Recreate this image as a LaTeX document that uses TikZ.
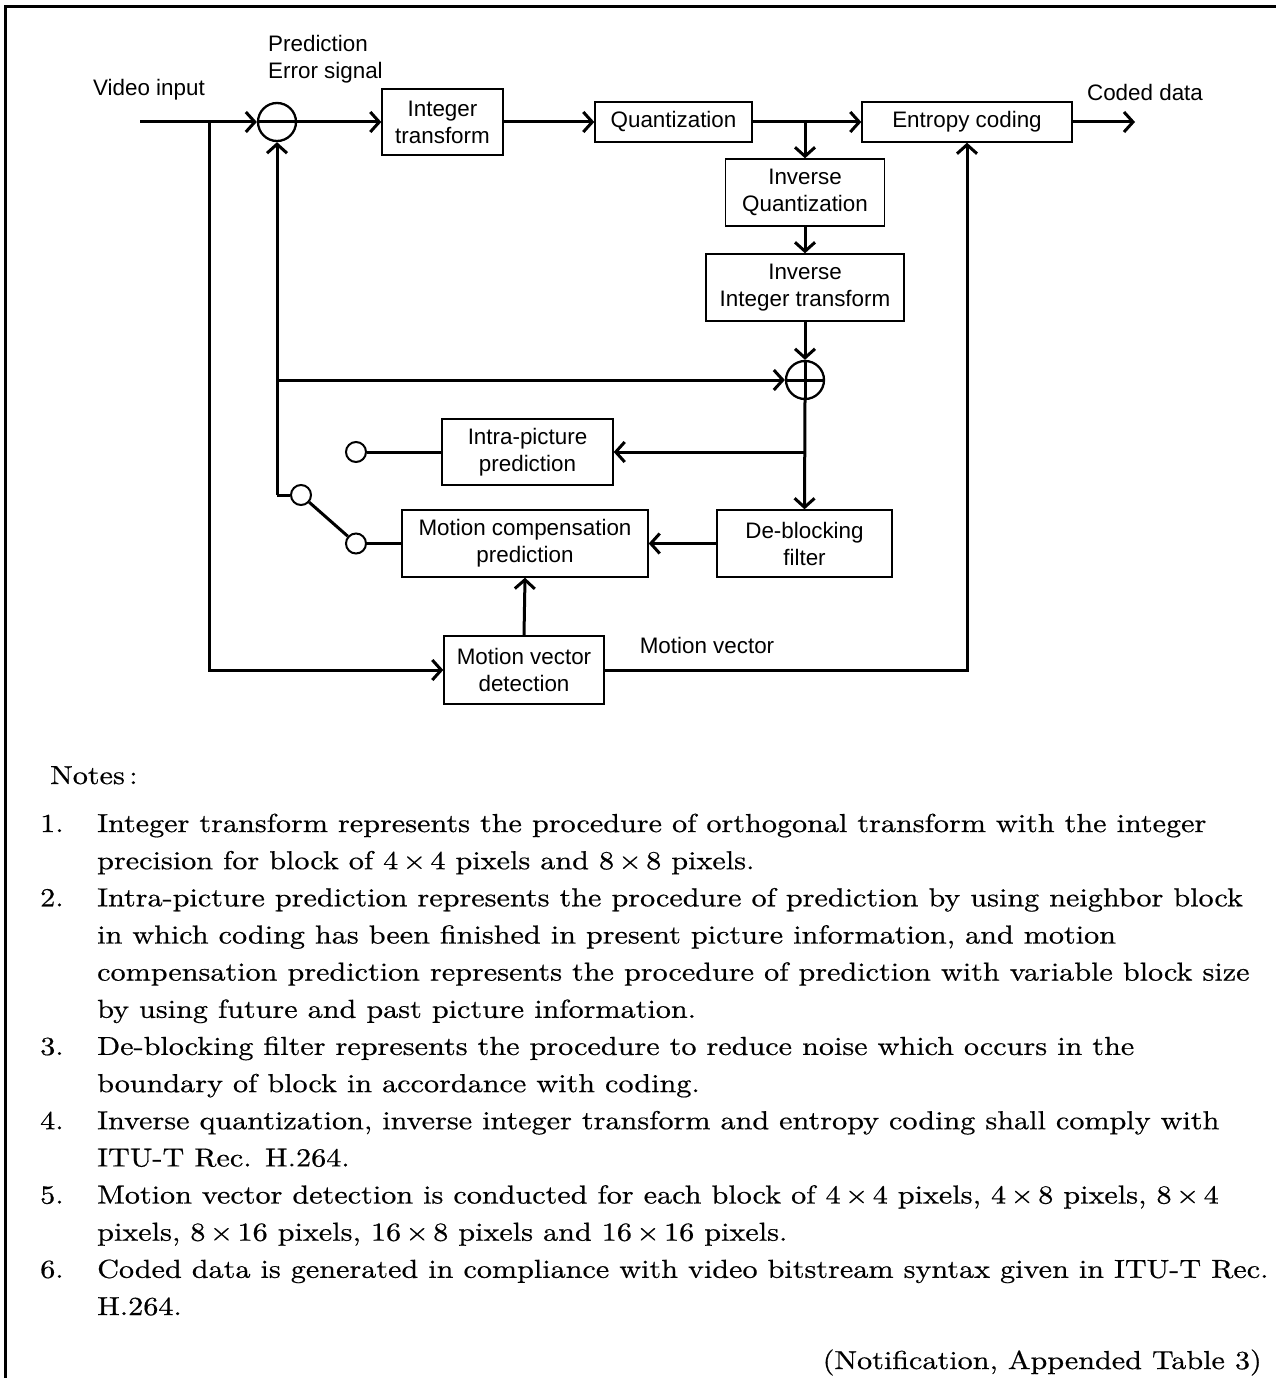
\documentclass[tikz,border=0pt]{standalone}
\usepackage{fontspec}
\usetikzlibrary{arrows.meta}
\newfontfamily\diafont{Liberation Sans}
\newfontfamily\notefont{lmroman10-regular}[Extension=.otf,FakeStretch=1.16,FakeBold=0.6]
\begin{document}
\begin{tikzpicture}[x=1pt,y=-1pt,
  lbl/.style={font=\diafont\fontsize{22.4}{27}\selectfont, inner sep=0pt},
  blk/.style={draw, line width=1.4pt, align=center, inner sep=0pt,
    font=\diafont\fontsize{22.4}{27}\selectfont},
  ring/.style={draw, circle, line width=2.3pt, minimum size=38pt, inner sep=0pt, fill=white},
  dot/.style={draw, circle, line width=2pt, minimum size=20pt, inner sep=0pt, fill=white},
  ln/.style={line width=3pt},
  arr/.style={line width=3pt, -{Straight Barb[length=9pt,width=20pt]}},
  note/.style={font=\notefont\fontsize{26}{37}\selectfont, inner sep=0pt, anchor=base west}]
\useasboundingbox (0,0) rectangle (1276,1378);
\draw[line width=3pt] (5,1378) -- (5,7) -- (1276,7);

% blocks
\node[blk, minimum width=121pt, minimum height=66pt] (it)  at (442.5,122) {Integer\\transform};
\node[blk, minimum width=157pt, minimum height=40pt] (q)   at (673.5,122) {Quantization};
\node[blk, minimum width=210pt, minimum height=40pt] (ec)  at (967,122) {Entropy coding};
\node[blk, minimum width=159pt, minimum height=67pt] (iq)  at (805,192.5) {Inverse\\Quantization};
\node[blk, minimum width=198pt, minimum height=67pt] (iit) at (805,287.5) {Inverse\\Integer transform};
\node[blk, minimum width=171pt, minimum height=66pt] (ip)  at (527.5,452) {Intra-picture\\prediction};
\node[blk, minimum width=246pt, minimum height=67pt] (mc)  at (525,543.5) {Motion compensation\\prediction};
\node[blk, minimum width=175pt, minimum height=67pt] (db)  at (804.5,543.5) {De-blocking\\filter};
\node[blk, minimum width=160pt, minimum height=68pt] (mv)  at (524,670) {Motion vector\\detection};

% circles
\node[ring] (sub) at (277,122) {};
\node[ring] (add) at (805,380) {};
\node[dot] (c1)  at (356,452) {};
\node[dot] (piv) at (301,495) {};
\node[dot] (c2)  at (356,543.5) {};

% labels
\node[lbl] (lvi) at (149,90) {Video input};
\node[lbl, align=left, anchor=west] (lpe) at (268,59.5) {Prediction\\Error signal};
\node[lbl] (lcd) at (1145,92) {Coded data};
\node[lbl] (lmv) at (707,645) {Motion vector};

% coordinates
\coordinate (in)  at (140,122);
\coordinate (j0)  at (209,122);
\coordinate (b1)  at (805,122);
\coordinate (out) at (1135,122);
\coordinate (pv)  at (277,495);
\coordinate (j1)  at (277,380);
\coordinate (j2)  at (805,452);

% connectors
\draw[arr] (in) -- (sub.west);
\draw[ln] (sub.west) -- (sub.east);
\draw[arr] (sub.east) -- (it.west);
\draw[arr] (it.east) -- (q.west);
\draw[arr] (q.east) -- (ec.west);
\draw[arr] (ec.east) -- (out);
\draw[arr] (b1) -- (iq.north);
\draw[arr] (iq.south) -- (iit.north);
\draw[arr] (iit.south) -- (add.north);
\draw[ln] (add.west) -- (add.east);
\draw[ln] (add.north) -- (add.south);
\draw[arr] (add.south) -- (db.north);
\draw[arr] (j2) -- (ip.east);
\draw[ln] (ip.west) -- (c1.east);
\draw[arr] (pv) -- (sub.south);
\draw[ln] (pv) -- (piv.west);
\draw[arr] (j1) -- (add.west);
\draw[ln] (piv) -- (c2);
\draw[ln] (c2.east) -- (mc.west);
\draw[arr] (db.west) -- (mc.east);
\draw[arr] (mv.north) -- (mc.south);
\draw[arr] (j0) |- (mv.west);
\draw[arr] (mv.east) -| (ec.south);

% notes
\node[note] (n0) at (50,784) {Notes\,:};
\node[note] (n1) at (40,832) {1.};
\node[note] (t1a) at (97,832) {Integer transform represents the procedure of orthogonal transform with the integer};
\node[note] (t1b) at (97,869.2) {precision for block of 4\,×\,4 pixels and 8\,×\,8 pixels.};
\node[note] (n2) at (40,906.3) {2.};
\node[note] (t2a) at (97,906.3) {Intra-picture prediction represents the procedure of prediction by using neighbor block};
\node[note] (t2b) at (97,943.5) {in which coding has been finished in present picture information, and motion};
\node[note] (t2c) at (97,980.6) {compensation prediction represents the procedure of prediction with variable block size};
\node[note] (t2d) at (97,1017.8) {by using future and past picture information.};
\node[note] (n3) at (40,1054.9) {3.};
\node[note] (t3a) at (97,1054.9) {De-blocking filter represents the procedure to reduce noise which occurs in the};
\node[note] (t3b) at (97,1092.1) {boundary of block in accordance with coding.};
\node[note] (n4) at (40,1129.2) {4.};
\node[note] (t4a) at (97,1129.2) {Inverse quantization, inverse integer transform and entropy coding shall comply with};
\node[note] (t4b) at (97,1166.4) {ITU-T Rec. H.264.};
\node[note] (n5) at (40,1203.5) {5.};
\node[note] (t5a) at (97,1203.5) {Motion vector detection is conducted for each block of 4\,×\,4 pixels, 4\,×\,8 pixels, 8\,×\,4};
\node[note] (t5b) at (97,1240.7) {pixels, 8\,×\,16 pixels, 16\,×\,8 pixels and 16\,×\,16 pixels.};
\node[note] (n6) at (40,1277.8) {6.};
\node[note] (t6a) at (97,1277.8) {Coded data is generated in compliance with video bitstream syntax given in ITU-T Rec.};
\node[note] (t6b) at (97,1315) {H.264.};
\node[note, anchor=base east] (src) at (1262,1369) {(Notification, Appended Table 3)};
\end{tikzpicture}
\end{document}
